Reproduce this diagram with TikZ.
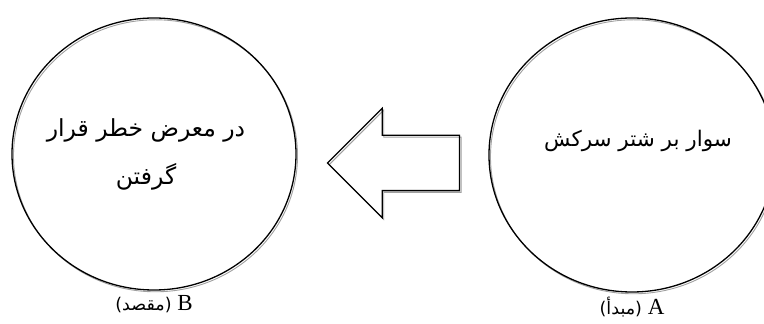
\documentclass[tikz,border=0pt]{standalone}
\usepackage{fontspec}
\setmainfont{Liberation Serif}
\newfontfamily\arabicfont[Script=Arabic]{DejaVu Sans}
\TeXXeTstate=1
\usetikzlibrary{shapes.geometric,shapes.arrows,positioning,calc}
\definecolor{outline}{HTML}{000000}
\definecolor{shadowgray}{HTML}{A0A0A0}
\tikzset{
  shadowline/.style={
    preaction={draw=shadowgray, line width=0.9pt,
      transform canvas={shift={(1.5pt,-1.8pt)}}}
  },
  bubble/.style={
    ellipse, draw=outline, line width=1.3pt, inner sep=0pt, shadowline
  },
  bubbletext/.style={
    align=center, inner sep=0pt, font=\arabicfont\fontsize{21.5}{48}\selectfont
  },
  blockarrow/.style={
    single arrow, shape border rotate=180, draw=outline, line width=1.3pt,
    minimum height=132pt, minimum width=108pt, single arrow head extend=27pt,
    single arrow tip angle=90, single arrow head indent=0pt,
    inner xsep=0pt, inner ysep=27pt, shadowline
  },
  caption/.style={font=\fontsize{23}{25}\selectfont, inner sep=0pt}
}
\newcommand{\rtlcaption}[2]{\beginR #1 {\arabicfont\fontsize{17.5}{20}\selectfont (#2)}\endR}

\begin{document}
\begin{tikzpicture}[x=1pt,y=1pt]
\useasboundingbox (0,0) rectangle (764,324);
\node[bubble, minimum width=284pt, minimum height=272pt] (dest) at (154,170) {};
\node[bubble, minimum width=286pt, minimum height=274pt] (src) at (632,169) {};
\node[bubbletext, xshift=-8pt, font=\arabicfont\fontsize{23.5}{48}\selectfont]
  (desttext) at (dest.center)
  {\beginR در معرض خطر قرار\endR\\\beginR گرفتن\endR};
\node[bubbletext, xshift=6pt, yshift=14pt] (srctext) at (src.center)
  {\beginR سوار بر شتر سرکش\endR};
\node[blockarrow, anchor=tip] (move) at ($(dest.east)+(30,-9)$) {};
\node[caption, below=5pt of dest] (destlabel) {\rtlcaption{B}{مقصد}};
\node[caption, below=4pt of src] (srclabel) {\rtlcaption{A}{مبدأ}};
\end{tikzpicture}
\end{document}
